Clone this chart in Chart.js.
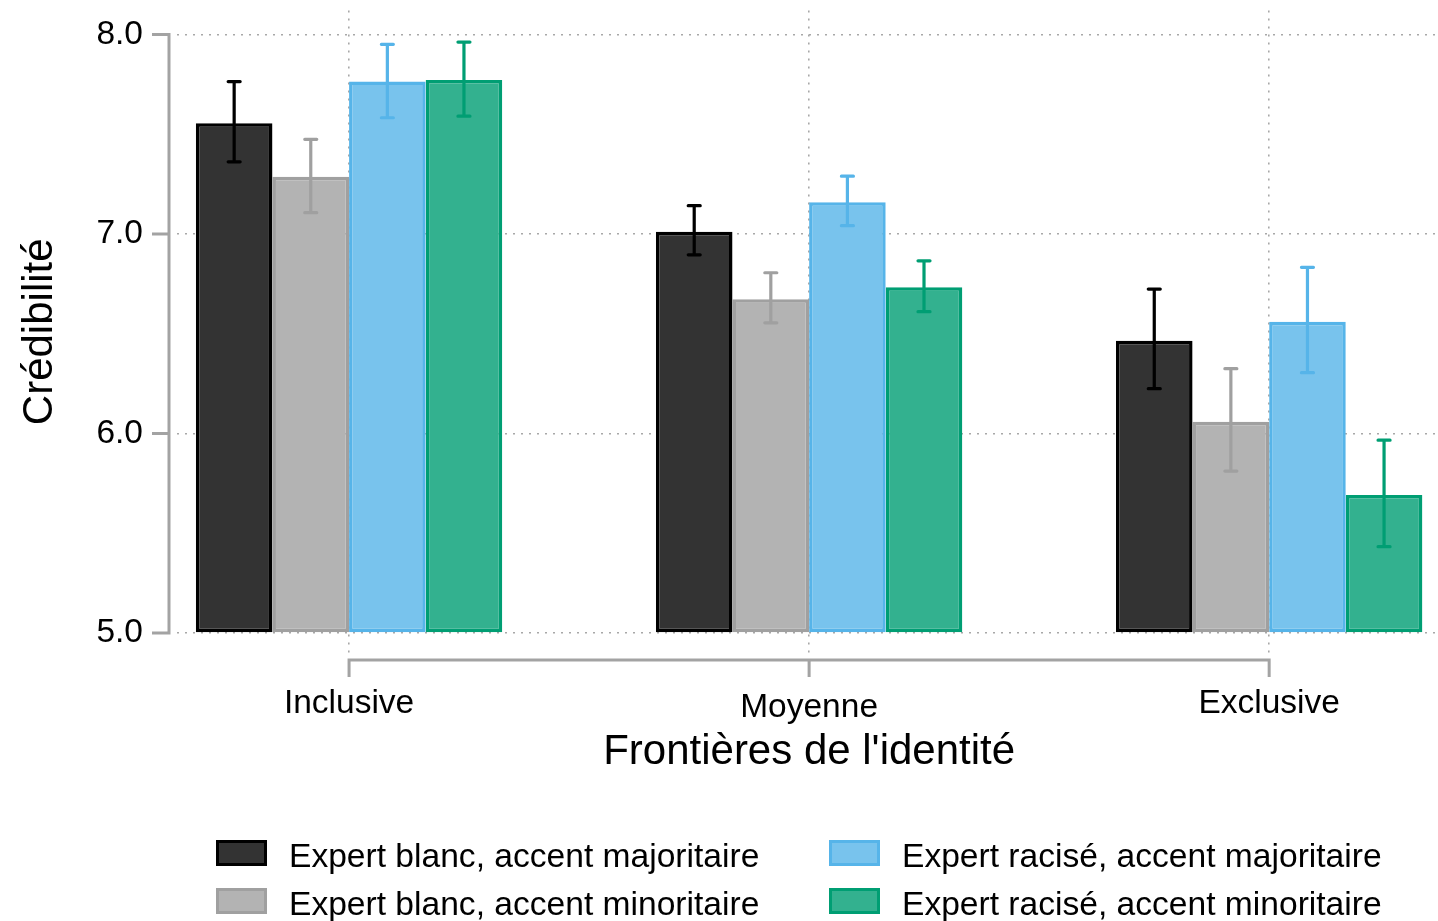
<!DOCTYPE html>
<html lang="fr">
<head>
<meta charset="utf-8">
<title>Crédibilité selon les frontières de l'identité</title>
<script src="https://cdn.jsdelivr.net/npm/chart.js@4.4.1/dist/chart.umd.min.js"></script>
<style>
  html, body { margin: 0; padding: 0; background: #fff; }
  #wrap { position: relative; width: 1438px; height: 921px; overflow: hidden; }
  #chart { position: absolute; left: 0; top: 0; }
  .key { position: absolute; box-sizing: border-box; width: 51px; height: 26px; border: 3px solid; }
  .key-label {
    position: absolute; white-space: nowrap; color: #000;
    font-family: "Liberation Sans", Arial, sans-serif; font-size: 33.6px; line-height: 33px;
  }
</style>
</head>
<body>
<div id="wrap">
  <canvas id="chart" width="1438" height="921"></canvas>
  <div id="legend"></div>
</div>
<script>
// --- 1. Data ---
const categories = ['Inclusive', 'Moyenne', 'Exclusive'];
const seriesNames = [
  'Expert blanc, accent majoritaire',
  'Expert blanc, accent minoritaire',
  'Expert racisé, accent majoritaire',
  'Expert racisé, accent minoritaire'
];

const blancMaj     = [7.555, 7.012, 6.465];
const blancMajLow  = [7.362, 6.896, 6.225];
const blancMajHigh = [7.764, 7.142, 6.724];

const blancMin     = [7.287, 6.673, 6.059];
const blancMinLow  = [7.107, 6.555, 5.812];
const blancMinHigh = [7.475, 6.806, 6.325];

const raciseMaj     = [7.764, 7.159, 6.560];
const raciseMajLow  = [7.583, 7.042, 6.305];
const raciseMajHigh = [7.951, 7.290, 6.833];

const raciseMin     = [7.772, 6.733, 5.692];
const raciseMinLow  = [7.591, 6.611, 5.433];
const raciseMinHigh = [7.962, 6.866, 5.967];

const yTicks = [5, 6, 7, 8];
const xTitle = "Frontières de l'identité";
const yTitle = 'Crédibilité';

// --- 2. Styles ---
const FONT = '"Liberation Sans", Arial, sans-serif';
const AXIS_GREY = '#a3a3a3';
const GRID_GREY = '#a8a8a8';
const borders = ['#000000', '#a0a0a0', '#56b4e9', '#009e73'];
const fills   = ['#333333', '#b3b3b3', '#78c3ed', '#33b18f'];

const values = [blancMaj, blancMin, raciseMaj, raciseMin];
const lows   = [blancMajLow, blancMinLow, raciseMajLow, raciseMinLow];
const highs  = [blancMajHigh, blancMinHigh, raciseMajHigh, raciseMinHigh];

const datasets = seriesNames.map((name, s) => ({
  label: name,
  data: values[s].map((v, i) => ({ x: i + 1, y: v })),
  errLow: lows[s],
  errHigh: highs[s],
  backgroundColor: fills[s],
  borderColor: borders[s],
  borderWidth: 3.5,
  borderSkipped: false,
  base: 5,
  categoryPercentage: 0.666,
  barPercentage: 1.0
}));

// --- 3. Plugins ---
const errorBars = {
  id: 'errorBars',
  afterDatasetsDraw(chart) {
    const ctx = chart.ctx;
    const y = chart.scales.y;
    chart.data.datasets.forEach((ds, di) => {
      chart.getDatasetMeta(di).data.forEach((bar, i) => {
        const top = y.getPixelForValue(ds.errHigh[i]);
        const bot = y.getPixelForValue(ds.errLow[i]);
        ctx.save();
        ctx.strokeStyle = ds.borderColor;
        ctx.lineWidth = 3.2;
        ctx.lineCap = 'round';
        ctx.beginPath();
        ctx.moveTo(bar.x, top); ctx.lineTo(bar.x, bot);
        ctx.moveTo(bar.x - 6, top); ctx.lineTo(bar.x + 6, top);
        ctx.moveTo(bar.x - 6, bot); ctx.lineTo(bar.x + 6, bot);
        ctx.stroke();
        ctx.restore();
      });
    });
  }
};

// R-style detached axes, category labels and titles
const axesAndTitles = {
  id: 'axesAndTitles',
  afterDraw(chart) {
    const ctx = chart.ctx;
    const { x, y } = chart.scales;
    const area = chart.chartArea;
    const axisX = area.left - 8;
    const axisY = area.bottom + 3;

    ctx.save();
    ctx.strokeStyle = AXIS_GREY;
    ctx.lineWidth = 3;
    ctx.lineCap = 'butt';

    // y axis
    ctx.beginPath();
    ctx.moveTo(axisX, y.getPixelForValue(yTicks[yTicks.length - 1]));
    ctx.lineTo(axisX, y.getPixelForValue(yTicks[0]));
    yTicks.forEach(t => {
      const py = y.getPixelForValue(t);
      ctx.moveTo(axisX - 17, py); ctx.lineTo(axisX + 1.5, py);
    });
    ctx.stroke();

    // x axis
    ctx.beginPath();
    ctx.moveTo(x.getPixelForValue(1), axisY);
    ctx.lineTo(x.getPixelForValue(categories.length), axisY);
    categories.forEach((c, i) => {
      const px = x.getPixelForValue(i + 1);
      ctx.moveTo(px, axisY - 1.5); ctx.lineTo(px, axisY + 17);
    });
    ctx.stroke();

    // category labels (centred on their ink, so descenders push "Moyenne" down a little)
    ctx.fillStyle = '#000';
    ctx.font = `33.5px ${FONT}`;
    ctx.textAlign = 'center';
    ctx.textBaseline = 'alphabetic';
    categories.forEach((c, i) => {
      const drop = /[gjpqy]/.test(c) ? 3.5 : 0;
      ctx.fillText(c, x.getPixelForValue(i + 1), axisY + 53 + drop);
    });

    // axis titles
    ctx.font = `42px ${FONT}`;
    const midX = (x.getPixelForValue(1) + x.getPixelForValue(categories.length)) / 2;
    ctx.fillText(xTitle, midX, 764);

    const midY = (y.getPixelForValue(yTicks[0]) + y.getPixelForValue(yTicks[yTicks.length - 1])) / 2;
    ctx.translate(52, midY - 2);
    ctx.rotate(-Math.PI / 2);
    ctx.fillText(yTitle, 0, 0);
    ctx.restore();
  }
};

// --- 4. Chart ---
new Chart(document.getElementById('chart').getContext('2d'), {
  type: 'bar',
  data: { datasets },
  plugins: [errorBars, axesAndTitles],
  options: {
    responsive: false,
    animation: false,
    devicePixelRatio: 1,
    layout: { padding: { top: 10.6, bottom: 264, left: 0, right: 0 } },
    plugins: { legend: { display: false }, tooltip: { enabled: false } },
    scales: {
      x: {
        type: 'linear',
        offset: false,
        min: 0.626,
        max: 3.367,
        afterBuildTicks: (scale) => { scale.ticks = categories.map((c, i) => ({ value: i + 1 })); },
        afterFit: (scale) => { scale.height = 0; scale.paddingLeft = 0; scale.paddingRight = 0; },
        ticks: { display: false, includeBounds: false },
        grid: { offset: false, color: GRID_GREY, lineWidth: 1.6, drawTicks: false },
        border: { display: false, dash: [2, 6] }
      },
      y: {
        min: 4.88,
        max: 8.12,
        afterBuildTicks: (scale) => { scale.ticks = yTicks.map(v => ({ value: v })); },
        afterFit: (scale) => { scale.width = 177; scale.paddingTop = 0; scale.paddingBottom = 0; },
        ticks: {
          color: '#000',
          padding: 34,
          font: { family: FONT, size: 33.5 },
          callback: (v) => Number(v).toFixed(1)
        },
        grid: { color: GRID_GREY, lineWidth: 1.6, drawTicks: false },
        border: { display: false, dash: [2, 6] }
      }
    }
  }
});

// --- 5. Legend (filled column by column, as in the original) ---
const legendBox = document.getElementById('legend');
const colLeft = [216, 829];
const rowTop = [840, 888];
legendBox.innerHTML = seriesNames.map((name, s) => {
  const col = Math.floor(s / 2), row = s % 2;
  return `
    <div class="key" style="left:${colLeft[col]}px; top:${rowTop[row]}px; background:${fills[s]}; border-color:${borders[s]};"></div>
    <div class="key-label" style="left:${colLeft[col] + 73}px; top:${rowTop[row] - 1}px;">${name}</div>`;
}).join('');
</script>
</body>
</html>
